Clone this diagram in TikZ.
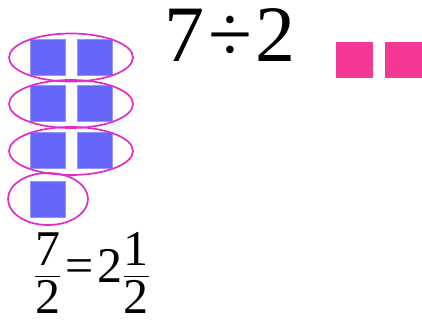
\documentclass[tikz,border=0pt]{standalone}
\usepackage{amsmath}
\usepackage{fontspec}
\setmainfont{Liberation Serif}
\usetikzlibrary{positioning,shapes.geometric}
\definecolor{tile}{RGB}{102,102,250}
\definecolor{leftover}{RGB}{245,55,150}
\definecolor{ring}{RGB}{225,45,200}

\begin{document}
\begin{tikzpicture}[
      x=1pt,y=-1pt,
      tilebox/.style={fill=tile,draw=tile!70!white,line width=0.6pt,
        minimum width=35pt,minimum height=36pt,inner sep=0pt},
      restbox/.style={fill=leftover,
        minimum width=37pt,minimum height=36pt,inner sep=0pt},
      pair/.style={ellipse,draw=ring,line width=1.7pt,
        minimum width=124pt,minimum height=48pt,inner sep=0pt}
    ]
      \useasboundingbox (0,0) rectangle (422,320);

      % seven tiles, grouped in twos
      \node[tilebox](t1) at (47.5,57.5){};
      \node[tilebox](t2) at (95,57.5){};
      \node[tilebox](t3) at (47.5,103.5){};
      \node[tilebox](t4) at (95,103.5){};
      \node[tilebox](t5) at (47.5,150){};
      \node[tilebox](t6) at (95,150){};
      \node[tilebox](t7) at (47.5,199){};

      \node[pair](g1) at (71,57.5){};
      \node[pair](g2) at (71,104){};
      \node[pair](g3) at (71,151){};
      \node[pair,minimum width=80pt,minimum height=52pt](g4) at (48,199){};

      % the division and the divisor
      \node[anchor=base,inner sep=0pt,font=\fontsize{80}{86}\selectfont]
        (div) at (230,62){7\kern4pt÷\kern4pt2};
      \node[restbox](r1) at (354.5,60){};
      \node[restbox](r2) at (403.5,60){};

      % result
      \node[inner sep=0pt,font=\fontsize{50}{56}\selectfont](res) at (92,273){%
        $\dfrac{\text{7}}{\text{2}}\mkern3mu\text{=}\mkern3mu\text{2}\dfrac{\text{1}}{\text{2}}$};
    \end{tikzpicture}
\end{document}
